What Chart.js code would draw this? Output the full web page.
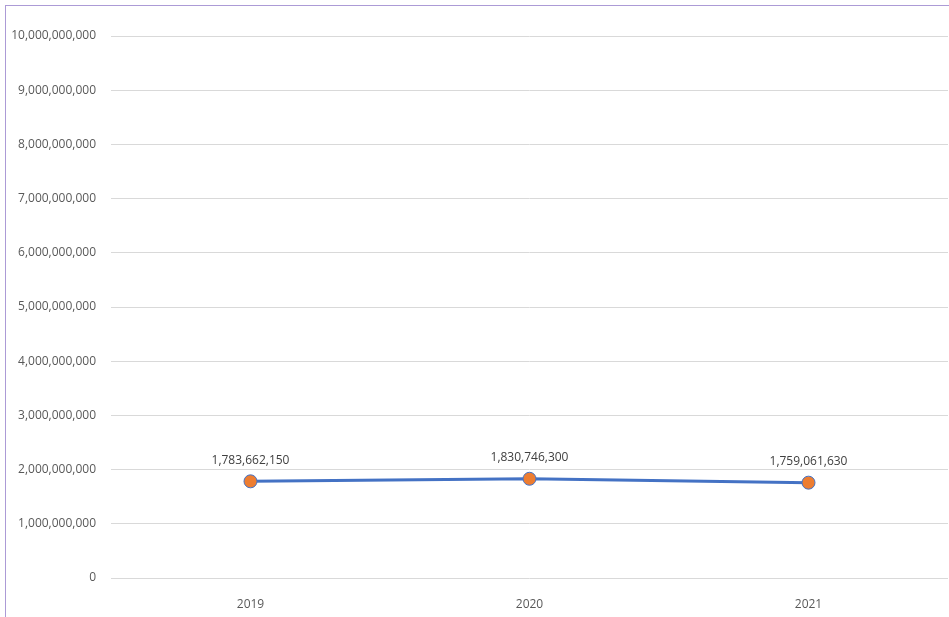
<!DOCTYPE html>
<html lang="en">
<head>
    <meta charset="UTF-8">
    <title>Line Chart 2019-2021</title>
    <script src="https://cdn.jsdelivr.net/npm/chart.js"></script>
    <style>
        html, body { margin: 0; padding: 0; background: #fff; overflow: hidden; }
        .frame {
            position: absolute;
            left: 5px;
            top: 5px;
            width: 944px;
            height: 612px;
            box-sizing: border-box;
            border-left: 1px solid #ac9bd6;
            border-top: 1px solid #ac9bd6;
        }
        #lineChart { position: absolute; left: 0; top: 0; }
    </style>
</head>
<body>
    <div class="frame"></div>
    <canvas id="lineChart" width="949" height="617"></canvas>

    <script>
        // Data
        const years = ['2019', '2020', '2021'];
        const values = [1783662150, 1830746300, 1759061630];
        const yTicks = [0, 1000000000, 2000000000, 3000000000, 4000000000, 5000000000,
                        6000000000, 7000000000, 8000000000, 9000000000, 10000000000];

        const fmt = v => v.toLocaleString('en-US');

        // simple value labels above the points
        const pointLabels = {
            id: 'pointLabels',
            afterDatasetsDraw(chart) {
                const c = chart.ctx;
                const meta = chart.getDatasetMeta(0);
                c.save();
                c.font = '12px "Open Sans"';
                c.fillStyle = '#404040';
                c.textAlign = 'center';
                c.textBaseline = 'middle';
                meta.data.forEach((pt, i) => {
                    c.fillText(fmt(values[i]), pt.x, pt.y - 21);
                });
                c.restore();
            }
        };

        const ctx = document.getElementById('lineChart').getContext('2d');
        new Chart(ctx, {
            type: 'line',
            data: {
                labels: years,
                datasets: [{
                    data: values,
                    borderColor: '#4472C4',
                    borderWidth: 3,
                    pointBackgroundColor: '#ED7D31',
                    pointBorderColor: '#4472C4',
                    pointBorderWidth: 1,
                    pointRadius: 6.5,
                    tension: 0
                }]
            },
            options: {
                responsive: false,
                animation: false,
                layout: { autoPadding: false, padding: { top: 36, right: 1, left: 0, bottom: 0 } },
                plugins: {
                    legend: { display: false },
                    tooltip: { enabled: false }
                },
                scales: {
                    x: {
                        offset: true,
                        grid: { display: false },
                        border: { display: false },
                        ticks: {
                            color: '#595959',
                            font: { family: 'Open Sans', size: 12 },
                            padding: 11
                        },
                        afterFit: s => { s.height = 39; s.paddingRight = 0; s.paddingLeft = 0; }
                    },
                    y: {
                        min: 0,
                        max: 10000000000,
                        afterBuildTicks: s => { s.ticks = yTicks.map(v => ({ value: v })); },
                        grid: { color: '#d9d9d9', drawTicks: false },
                        border: { display: false },
                        ticks: {
                            color: '#595959',
                            font: { family: 'Open Sans', size: 12 },
                            padding: 15,
                            callback: v => fmt(v)
                        },
                        afterFit: s => { s.width = 111; }
                    }
                }
            },
            plugins: [pointLabels]
        });
    </script>
</body>
</html>
